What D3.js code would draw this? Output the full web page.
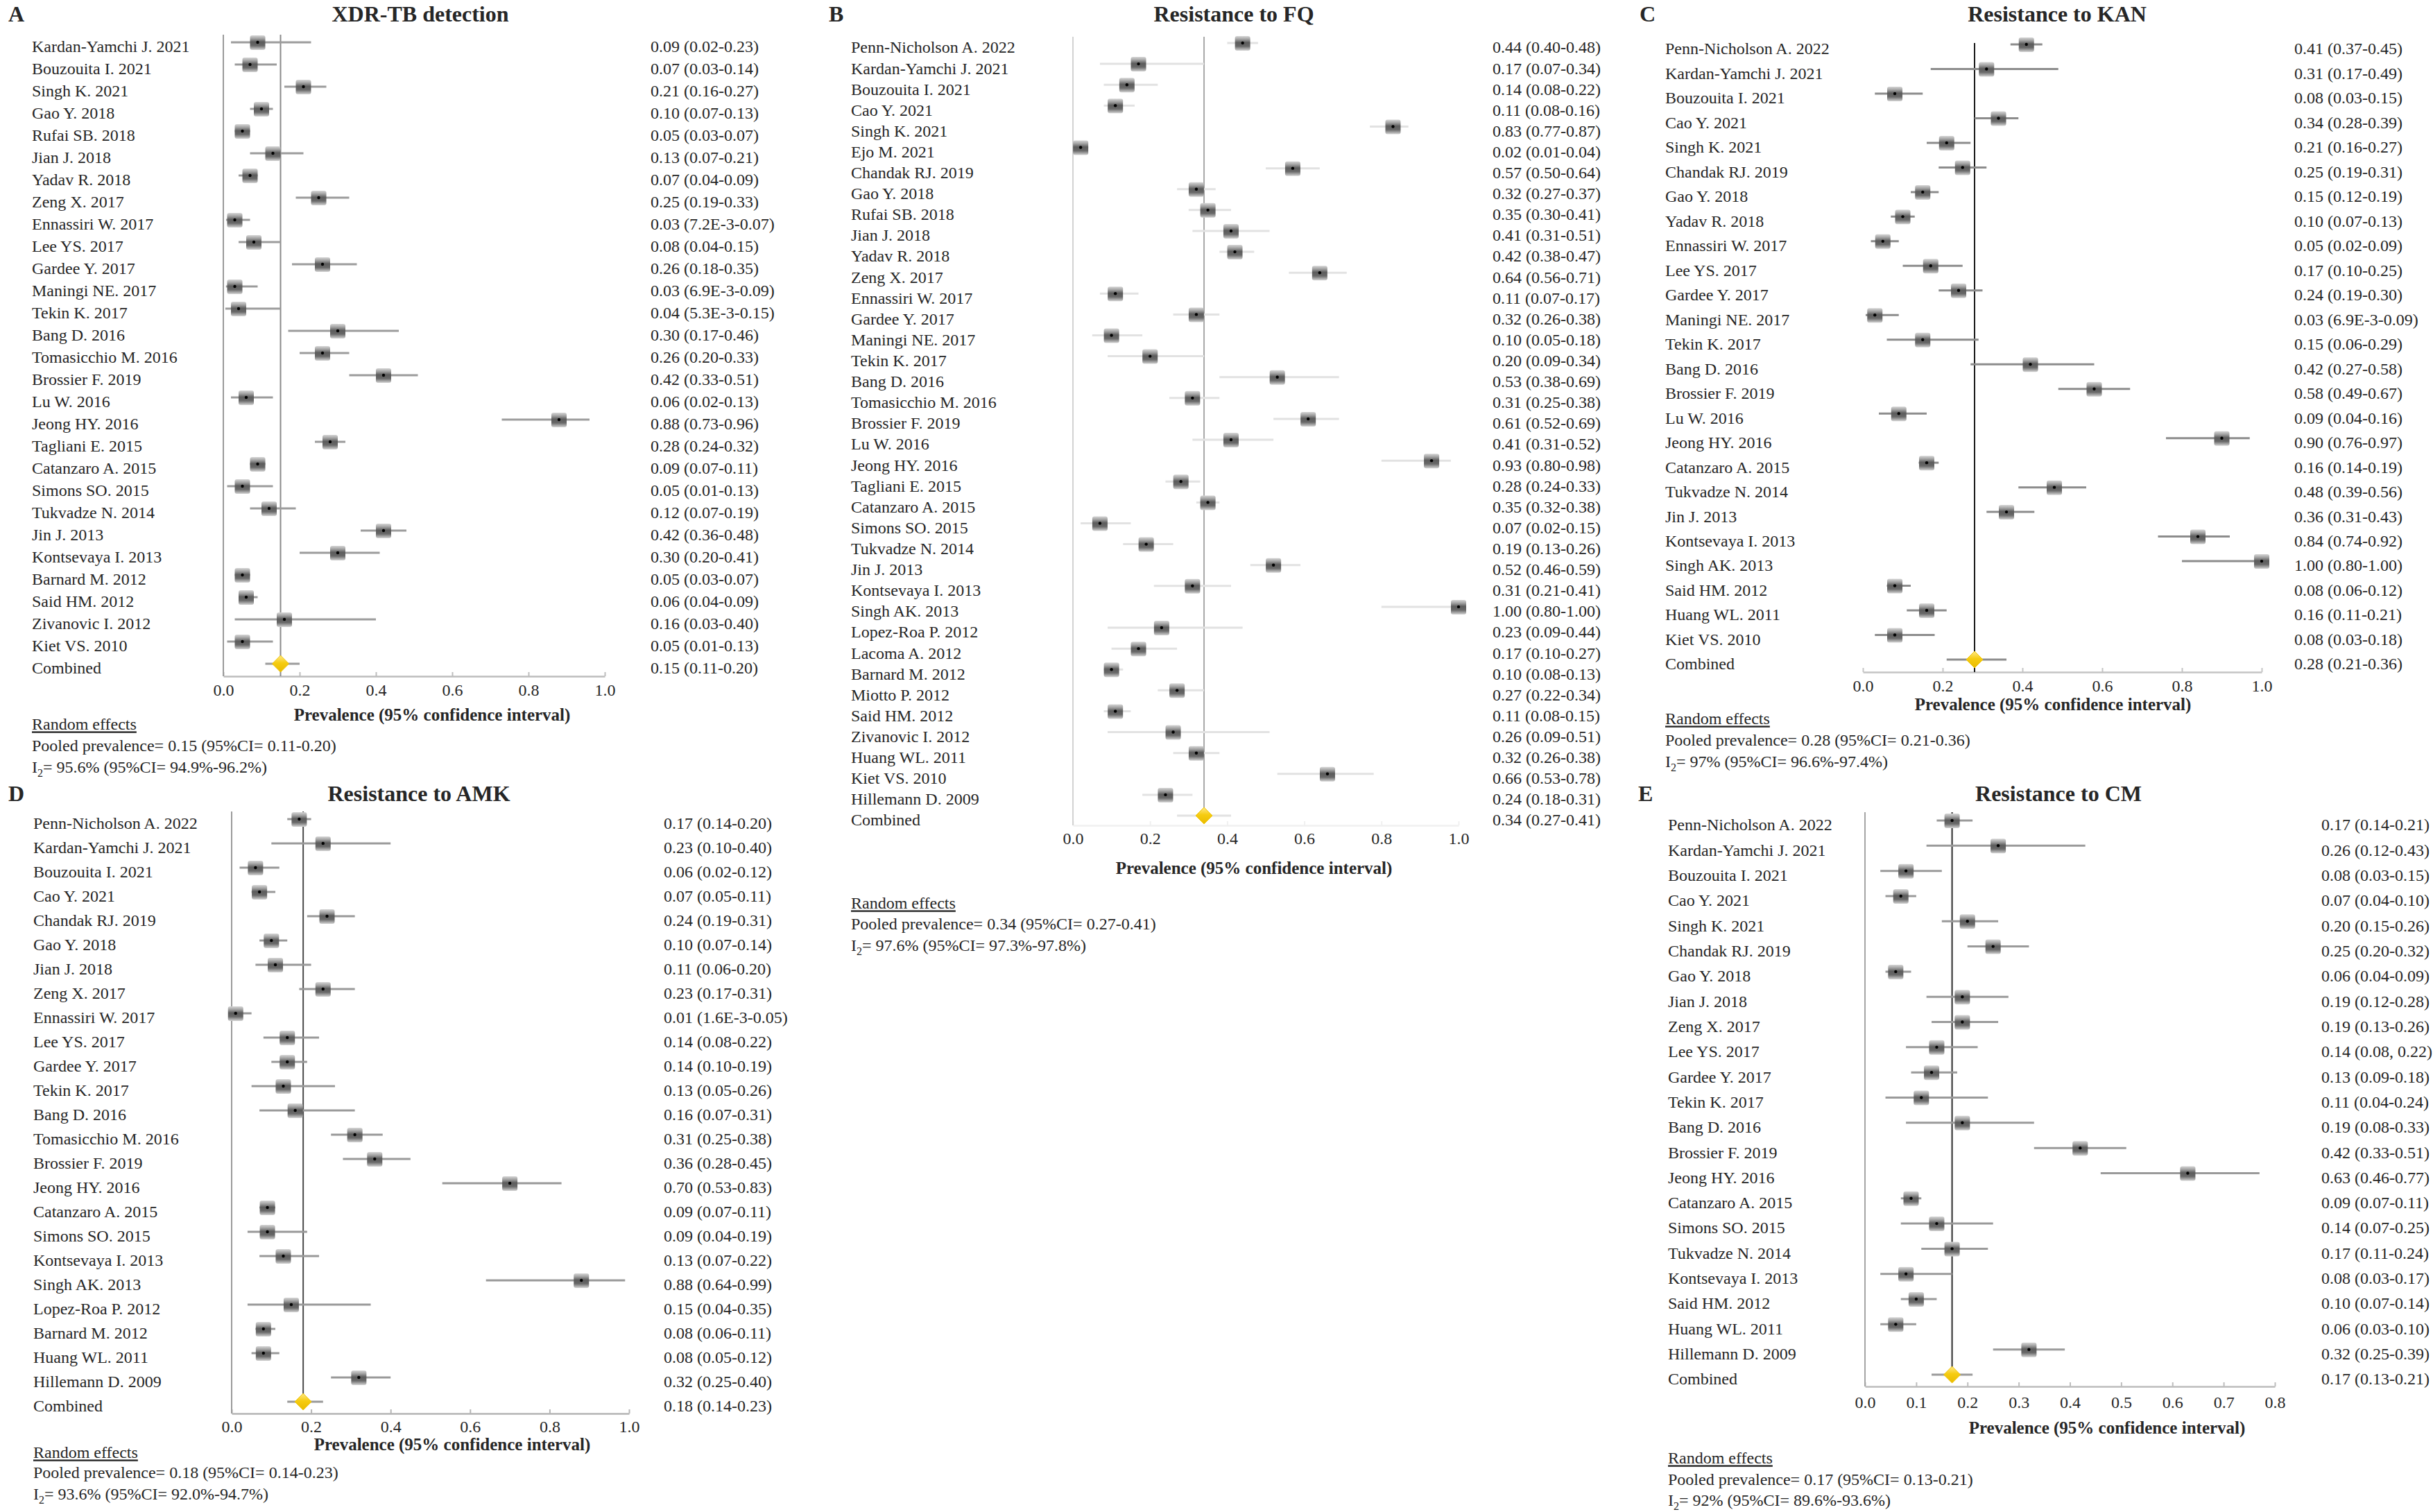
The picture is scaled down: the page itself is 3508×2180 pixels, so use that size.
<!DOCTYPE html>
<html><head><meta charset="utf-8">
<script src="https://cdn.jsdelivr.net/npm/d3@7"></script>
<style>
body{margin:0;background:#fff}
svg text{font-family:"Liberation Serif","Times New Roman",serif;fill:#262626}
</style>
</head><body>
<svg id="chart" width="3508" height="2180"></svg>
<script>
// ---------- DATA ----------
const aNames = ["Kardan-Yamchi J. 2021","Bouzouita I. 2021","Singh K. 2021","Gao Y. 2018","Rufai SB. 2018","Jian J. 2018","Yadav R. 2018","Zeng X. 2017","Ennassiri W. 2017","Lee YS. 2017","Gardee Y. 2017","Maningi NE. 2017","Tekin K. 2017","Bang D. 2016","Tomasicchio M. 2016","Brossier F. 2019","Lu W. 2016","Jeong HY. 2016","Tagliani E. 2015","Catanzaro A. 2015","Simons SO. 2015","Tukvadze N. 2014","Jin J. 2013","Kontsevaya I. 2013","Barnard M. 2012","Said HM. 2012","Zivanovic I. 2012","Kiet VS. 2010","Combined"];
const aEst = [0.09,0.07,0.21,0.10,0.05,0.13,0.07,0.25,0.03,0.08,0.26,0.03,0.04,0.30,0.26,0.42,0.06,0.88,0.28,0.09,0.05,0.12,0.42,0.30,0.05,0.06,0.16,0.05,0.15];
const aLo  = [0.02,0.03,0.16,0.07,0.03,0.07,0.04,0.19,0.0072,0.04,0.18,0.0069,0.0053,0.17,0.20,0.33,0.02,0.73,0.24,0.07,0.01,0.07,0.36,0.20,0.03,0.04,0.03,0.01,0.11];
const aHi  = [0.23,0.14,0.27,0.13,0.07,0.21,0.09,0.33,0.07,0.15,0.35,0.09,0.15,0.46,0.33,0.51,0.13,0.96,0.32,0.11,0.13,0.19,0.48,0.41,0.07,0.09,0.40,0.13,0.20];
const aText = ["0.09 (0.02-0.23)","0.07 (0.03-0.14)","0.21 (0.16-0.27)","0.10 (0.07-0.13)","0.05 (0.03-0.07)","0.13 (0.07-0.21)","0.07 (0.04-0.09)","0.25 (0.19-0.33)","0.03 (7.2E-3-0.07)","0.08 (0.04-0.15)","0.26 (0.18-0.35)","0.03 (6.9E-3-0.09)","0.04 (5.3E-3-0.15)","0.30 (0.17-0.46)","0.26 (0.20-0.33)","0.42 (0.33-0.51)","0.06 (0.02-0.13)","0.88 (0.73-0.96)","0.28 (0.24-0.32)","0.09 (0.07-0.11)","0.05 (0.01-0.13)","0.12 (0.07-0.19)","0.42 (0.36-0.48)","0.30 (0.20-0.41)","0.05 (0.03-0.07)","0.06 (0.04-0.09)","0.16 (0.03-0.40)","0.05 (0.01-0.13)","0.15 (0.11-0.20)"];

const bNames = ["Penn-Nicholson A. 2022","Kardan-Yamchi J. 2021","Bouzouita I. 2021","Cao Y. 2021","Singh K. 2021","Ejo M. 2021","Chandak RJ. 2019","Gao Y. 2018","Rufai SB. 2018","Jian J. 2018","Yadav R. 2018","Zeng X. 2017","Ennassiri W. 2017","Gardee Y. 2017","Maningi NE. 2017","Tekin K. 2017","Bang D. 2016","Tomasicchio M. 2016","Brossier F. 2019","Lu W. 2016","Jeong HY. 2016","Tagliani E. 2015","Catanzaro A. 2015","Simons SO. 2015","Tukvadze N. 2014","Jin J. 2013","Kontsevaya I. 2013","Singh AK. 2013","Lopez-Roa P. 2012","Lacoma A. 2012","Barnard M. 2012","Miotto P. 2012","Said HM. 2012","Zivanovic I. 2012","Huang WL. 2011","Kiet VS. 2010","Hillemann D. 2009","Combined"];
const bEst = [0.44,0.17,0.14,0.11,0.83,0.02,0.57,0.32,0.35,0.41,0.42,0.64,0.11,0.32,0.10,0.20,0.53,0.31,0.61,0.41,0.93,0.28,0.35,0.07,0.19,0.52,0.31,1.00,0.23,0.17,0.10,0.27,0.11,0.26,0.32,0.66,0.24,0.34];
const bLo  = [0.40,0.07,0.08,0.08,0.77,0.01,0.50,0.27,0.30,0.31,0.38,0.56,0.07,0.26,0.05,0.09,0.38,0.25,0.52,0.31,0.80,0.24,0.32,0.02,0.13,0.46,0.21,0.80,0.09,0.10,0.08,0.22,0.08,0.09,0.26,0.53,0.18,0.27];
const bHi  = [0.48,0.34,0.22,0.16,0.87,0.04,0.64,0.37,0.41,0.51,0.47,0.71,0.17,0.38,0.18,0.34,0.69,0.38,0.69,0.52,0.98,0.33,0.38,0.15,0.26,0.59,0.41,1.00,0.44,0.27,0.13,0.34,0.15,0.51,0.38,0.78,0.31,0.41];
const bText = ["0.44 (0.40-0.48)","0.17 (0.07-0.34)","0.14 (0.08-0.22)","0.11 (0.08-0.16)","0.83 (0.77-0.87)","0.02 (0.01-0.04)","0.57 (0.50-0.64)","0.32 (0.27-0.37)","0.35 (0.30-0.41)","0.41 (0.31-0.51)","0.42 (0.38-0.47)","0.64 (0.56-0.71)","0.11 (0.07-0.17)","0.32 (0.26-0.38)","0.10 (0.05-0.18)","0.20 (0.09-0.34)","0.53 (0.38-0.69)","0.31 (0.25-0.38)","0.61 (0.52-0.69)","0.41 (0.31-0.52)","0.93 (0.80-0.98)","0.28 (0.24-0.33)","0.35 (0.32-0.38)","0.07 (0.02-0.15)","0.19 (0.13-0.26)","0.52 (0.46-0.59)","0.31 (0.21-0.41)","1.00 (0.80-1.00)","0.23 (0.09-0.44)","0.17 (0.10-0.27)","0.10 (0.08-0.13)","0.27 (0.22-0.34)","0.11 (0.08-0.15)","0.26 (0.09-0.51)","0.32 (0.26-0.38)","0.66 (0.53-0.78)","0.24 (0.18-0.31)","0.34 (0.27-0.41)"];

const cNames = ["Penn-Nicholson A. 2022","Kardan-Yamchi J. 2021","Bouzouita I. 2021","Cao Y. 2021","Singh K. 2021","Chandak RJ. 2019","Gao Y. 2018","Yadav R. 2018","Ennassiri W. 2017","Lee YS. 2017","Gardee Y. 2017","Maningi NE. 2017","Tekin K. 2017","Bang D. 2016","Brossier F. 2019","Lu W. 2016","Jeong HY. 2016","Catanzaro A. 2015","Tukvadze N. 2014","Jin J. 2013","Kontsevaya I. 2013","Singh AK. 2013","Said HM. 2012","Huang WL. 2011","Kiet VS. 2010","Combined"];
const cEst = [0.41,0.31,0.08,0.34,0.21,0.25,0.15,0.10,0.05,0.17,0.24,0.03,0.15,0.42,0.58,0.09,0.90,0.16,0.48,0.36,0.84,1.00,0.08,0.16,0.08,0.28];
const cLo  = [0.37,0.17,0.03,0.28,0.16,0.19,0.12,0.07,0.02,0.10,0.19,0.0069,0.06,0.27,0.49,0.04,0.76,0.14,0.39,0.31,0.74,0.80,0.06,0.11,0.03,0.21];
const cHi  = [0.45,0.49,0.15,0.39,0.27,0.31,0.19,0.13,0.09,0.25,0.30,0.09,0.29,0.58,0.67,0.16,0.97,0.19,0.56,0.43,0.92,1.00,0.12,0.21,0.18,0.36];
const cText = ["0.41 (0.37-0.45)","0.31 (0.17-0.49)","0.08 (0.03-0.15)","0.34 (0.28-0.39)","0.21 (0.16-0.27)","0.25 (0.19-0.31)","0.15 (0.12-0.19)","0.10 (0.07-0.13)","0.05 (0.02-0.09)","0.17 (0.10-0.25)","0.24 (0.19-0.30)","0.03 (6.9E-3-0.09)","0.15 (0.06-0.29)","0.42 (0.27-0.58)","0.58 (0.49-0.67)","0.09 (0.04-0.16)","0.90 (0.76-0.97)","0.16 (0.14-0.19)","0.48 (0.39-0.56)","0.36 (0.31-0.43)","0.84 (0.74-0.92)","1.00 (0.80-1.00)","0.08 (0.06-0.12)","0.16 (0.11-0.21)","0.08 (0.03-0.18)","0.28 (0.21-0.36)"];

const dNames = ["Penn-Nicholson A. 2022","Kardan-Yamchi J. 2021","Bouzouita I. 2021","Cao Y. 2021","Chandak RJ. 2019","Gao Y. 2018","Jian J. 2018","Zeng X. 2017","Ennassiri W. 2017","Lee YS. 2017","Gardee Y. 2017","Tekin K. 2017","Bang D. 2016","Tomasicchio M. 2016","Brossier F. 2019","Jeong HY. 2016","Catanzaro A. 2015","Simons SO. 2015","Kontsevaya I. 2013","Singh AK. 2013","Lopez-Roa P. 2012","Barnard M. 2012","Huang WL. 2011","Hillemann D. 2009","Combined"];
const dEst = [0.17,0.23,0.06,0.07,0.24,0.10,0.11,0.23,0.01,0.14,0.14,0.13,0.16,0.31,0.36,0.70,0.09,0.09,0.13,0.88,0.15,0.08,0.08,0.32,0.18];
const dLo  = [0.14,0.10,0.02,0.05,0.19,0.07,0.06,0.17,0.0016,0.08,0.10,0.05,0.07,0.25,0.28,0.53,0.07,0.04,0.07,0.64,0.04,0.06,0.05,0.25,0.14];
const dHi  = [0.20,0.40,0.12,0.11,0.31,0.14,0.20,0.31,0.05,0.22,0.19,0.26,0.31,0.38,0.45,0.83,0.11,0.19,0.22,0.99,0.35,0.11,0.12,0.40,0.23];
const dText = ["0.17 (0.14-0.20)","0.23 (0.10-0.40)","0.06 (0.02-0.12)","0.07 (0.05-0.11)","0.24 (0.19-0.31)","0.10 (0.07-0.14)","0.11 (0.06-0.20)","0.23 (0.17-0.31)","0.01 (1.6E-3-0.05)","0.14 (0.08-0.22)","0.14 (0.10-0.19)","0.13 (0.05-0.26)","0.16 (0.07-0.31)","0.31 (0.25-0.38)","0.36 (0.28-0.45)","0.70 (0.53-0.83)","0.09 (0.07-0.11)","0.09 (0.04-0.19)","0.13 (0.07-0.22)","0.88 (0.64-0.99)","0.15 (0.04-0.35)","0.08 (0.06-0.11)","0.08 (0.05-0.12)","0.32 (0.25-0.40)","0.18 (0.14-0.23)"];

const eNames = ["Penn-Nicholson A. 2022","Kardan-Yamchi J. 2021","Bouzouita I. 2021","Cao Y. 2021","Singh K. 2021","Chandak RJ. 2019","Gao Y. 2018","Jian J. 2018","Zeng X. 2017","Lee YS. 2017","Gardee Y. 2017","Tekin K. 2017","Bang D. 2016","Brossier F. 2019","Jeong HY. 2016","Catanzaro A. 2015","Simons SO. 2015","Tukvadze N. 2014","Kontsevaya I. 2013","Said HM. 2012","Huang WL. 2011","Hillemann D. 2009","Combined"];
const eEst = [0.17,0.26,0.08,0.07,0.20,0.25,0.06,0.19,0.19,0.14,0.13,0.11,0.19,0.42,0.63,0.09,0.14,0.17,0.08,0.10,0.06,0.32,0.17];
const eLo  = [0.14,0.12,0.03,0.04,0.15,0.20,0.04,0.12,0.13,0.08,0.09,0.04,0.08,0.33,0.46,0.07,0.07,0.11,0.03,0.07,0.03,0.25,0.13];
const eHi  = [0.21,0.43,0.15,0.10,0.26,0.32,0.09,0.28,0.26,0.22,0.18,0.24,0.33,0.51,0.77,0.11,0.25,0.24,0.17,0.14,0.10,0.39,0.21];
const eText = ["0.17 (0.14-0.21)","0.26 (0.12-0.43)","0.08 (0.03-0.15)","0.07 (0.04-0.10)","0.20 (0.15-0.26)","0.25 (0.20-0.32)","0.06 (0.04-0.09)","0.19 (0.12-0.28)","0.19 (0.13-0.26)","0.14 (0.08, 0.22)","0.13 (0.09-0.18)","0.11 (0.04-0.24)","0.19 (0.08-0.33)","0.42 (0.33-0.51)","0.63 (0.46-0.77)","0.09 (0.07-0.11)","0.14 (0.07-0.25)","0.17 (0.11-0.24)","0.08 (0.03-0.17)","0.10 (0.07-0.14)","0.06 (0.03-0.10)","0.32 (0.25-0.39)","0.17 (0.13-0.21)"];

const panelLetters = ["A","B","C","D","E"];
const panelTitles = ["XDR-TB detection","Resistance to FQ","Resistance to KAN","Resistance to AMK","Resistance to CM"];
const pooledLines = ["Pooled prevalence= 0.15 (95%CI= 0.11-0.20)","Pooled prevalence= 0.34 (95%CI= 0.27-0.41)","Pooled prevalence= 0.28 (95%CI= 0.21-0.36)","Pooled prevalence= 0.18 (95%CI= 0.14-0.23)","Pooled prevalence= 0.17 (95%CI= 0.13-0.21)"];
const i2Lines = ["= 95.6% (95%CI= 94.9%-96.2%)","= 97.6% (95%CI= 97.3%-97.8%)","= 97% (95%CI= 96.6%-97.4%)","= 93.6% (95%CI= 92.0%-94.7%)","= 92% (95%CI= 89.6%-93.6%)"];
const ticksUnit = [0,0.2,0.4,0.6,0.8,1.0];
const ticksCM = [0,0.1,0.2,0.3,0.4,0.5,0.6,0.7,0.8];
const axisTitle = "Prevalence (95% confidence interval)";
const reTitle = "Random effects";

// ---------- LAYOUT (positions / styles) ----------
const layouts = [
  {letterX:12, titleX:606, titleY:31, labelX:46, x0:322, x1:872, xMax:1, ticks:ticksUnit, valX:938,
   rowTop:61, rowBot:957, plotTop:50, axisY:975, leftAxis:"#9a9a9a", axisCol:"#bdbdbd", pooledCol:"#8a8a8a", pooledBot:975, ciCol:"#9c9c9c",
   tickY:995, axTitleX:623, axTitleY:1030, reY:1044, poolY:1075, i2Y:1106},
  {letterX:1195, titleX:1779, titleY:31, labelX:1227, x0:1547, x1:2103, xMax:1, ticks:ticksUnit, valX:2152,
   rowTop:62, rowBot:1176, plotTop:53, axisY:1190, leftAxis:"#d2d2d2", axisCol:"#f0f0f0", pooledCol:"#a8a8a8", pooledBot:1178, ciCol:"#e2e2e2",
   tickY:1209, axTitleX:1808, axTitleY:1251, reY:1302, poolY:1332, i2Y:1363},
  {letterX:2364, titleX:2966, titleY:31, labelX:2401, x0:2686, x1:3261, xMax:1, ticks:ticksUnit, valX:3308,
   rowTop:64, rowBot:951, plotTop:62, axisY:969, leftAxis:null, axisCol:"#c4c4c4", pooledCol:"#1a1a1a", pooledBot:969, ciCol:"#8c8c8c",
   tickY:989, axTitleX:2960, axTitleY:1015, reY:1036, poolY:1067, i2Y:1098},
  {letterX:12, titleX:604, titleY:1155, labelX:48, x0:334, x1:907, xMax:1, ticks:ticksUnit, valX:957,
   rowTop:1181, rowBot:2021, plotTop:1170, axisY:2038, leftAxis:"#9a9a9a", axisCol:"#b5b5b5", pooledCol:"#4a4a4a", pooledBot:2021, ciCol:"#999999",
   tickY:2057, axTitleX:652, axTitleY:2082, reY:2094, poolY:2123, i2Y:2154},
  {letterX:2362, titleX:2968, titleY:1155, labelX:2405, x0:2689, x1:3280, xMax:0.8, ticks:ticksCM, valX:3347,
   rowTop:1183, rowBot:1982, plotTop:1171, axisY:1999, leftAxis:"#a5a5a5", axisCol:"#bdbdbd", pooledCol:"#2a2a2a", pooledBot:1982, ciCol:"#9a9a9a",
   tickY:2022, axTitleX:3038, axTitleY:2058, reY:2102, poolY:2133, i2Y:2163}
];

const datasets = [
  {names:aNames, est:aEst, lo:aLo, hi:aHi, text:aText},
  {names:bNames, est:bEst, lo:bLo, hi:bHi, text:bText},
  {names:cNames, est:cEst, lo:cLo, hi:cHi, text:cText},
  {names:dNames, est:dEst, lo:dLo, hi:dHi, text:dText},
  {names:eNames, est:eEst, lo:eLo, hi:eHi, text:eText}
];

// ---------- DRAW ----------
const svg = d3.select("#chart");
const defs = svg.append("defs");
const sq = defs.append("linearGradient").attr("id","sqGrad").attr("x1",0).attr("y1",0).attr("x2",0).attr("y2",1);
[[0,"#d6d6d6"],[0.22,"#a2a2a2"],[0.45,"#5c5c5c"],[0.7,"#686868"],[1,"#d4d4d4"]].forEach(s=>sq.append("stop").attr("offset",s[0]).attr("stop-color",s[1]));
const dg = defs.append("linearGradient").attr("id","dmGrad").attr("x1",0).attr("y1",0).attr("x2",0).attr("y2",1);
[[0,"#ffe98a"],[0.45,"#f6cc10"],[1,"#e9bb00"]].forEach(s=>dg.append("stop").attr("offset",s[0]).attr("stop-color",s[1]));

const FS = 24;

datasets.forEach((ds, p) => {
  const L = layouts[p];
  const g = svg.append("g");
  const n = ds.names.length;
  const x = d3.scaleLinear().domain([0, L.xMax]).range([L.x0, L.x1]);
  const y = d3.scaleLinear().domain([0, n-1]).range([L.rowTop, L.rowBot]);
  const rows = d3.range(n);
  const last = n-1;

  g.append("text").attr("x",L.letterX).attr("y",L.titleY).attr("font-size",32).attr("font-weight","bold").text(panelLetters[p]);
  g.append("text").attr("x",L.titleX).attr("y",L.titleY).attr("font-size",32).attr("font-weight","bold").attr("text-anchor","middle").text(panelTitles[p]);

  // axis
  const axis = d3.axisBottom(x).tickValues(L.ticks).tickFormat(d3.format(".1f")).tickSizeInner(-6).tickSizeOuter(0);
  const ag = g.append("g").attr("transform",`translate(0,${L.axisY})`).call(axis);
  ag.attr("font-family",null).attr("font-size",null);
  ag.select(".domain").attr("stroke",L.axisCol).attr("stroke-width",2.5);
  ag.selectAll(".tick line").attr("stroke",L.axisCol).attr("stroke-width",2);
  ag.selectAll(".tick text").attr("y",L.tickY-L.axisY).attr("dy","0.35em").attr("font-size",FS).attr("fill","#333");

  if (L.leftAxis) {
    g.append("line").attr("x1",x(0)).attr("x2",x(0)).attr("y1",L.plotTop).attr("y2",L.axisY)
      .attr("stroke",L.leftAxis).attr("stroke-width",2);
  }
  // pooled estimate line
  g.append("line").attr("x1",x(ds.est[last])).attr("x2",x(ds.est[last])).attr("y1",L.plotTop).attr("y2",L.pooledBot)
    .attr("stroke",L.pooledCol).attr("stroke-width",2);

  // CI lines
  g.selectAll(".ci").data(rows).join("line")
    .attr("x1",i=>x(ds.lo[i])).attr("x2",i=>x(ds.hi[i]))
    .attr("y1",i=>y(i)).attr("y2",i=>y(i))
    .attr("stroke",L.ciCol).attr("stroke-width",3);

  // study squares
  const studies = rows.slice(0,last);
  g.selectAll(".sq").data(studies).join("rect")
    .attr("x",i=>x(ds.est[i])-11).attr("y",i=>y(i)-10).attr("width",22).attr("height",21).attr("rx",3)
    .attr("fill","url(#sqGrad)");
  g.selectAll(".dot").data(studies).join("circle")
    .attr("cx",i=>x(ds.est[i])).attr("cy",i=>y(i)).attr("r",2.2).attr("fill","#000");

  // combined diamond
  const cx = x(ds.est[last]), cy = y(last);
  g.append("path").attr("d",`M${cx},${cy-12} L${cx+12},${cy} L${cx},${cy+12} L${cx-12},${cy} Z`)
    .attr("fill","url(#dmGrad)").attr("stroke","#f0c400").attr("stroke-width",1);

  // labels
  g.selectAll(".nm").data(rows).join("text")
    .attr("x",L.labelX).attr("y",i=>y(i)+6).attr("dy","0.35em").attr("font-size",FS).text(i=>ds.names[i]);
  g.selectAll(".vl").data(rows).join("text")
    .attr("x",L.valX).attr("y",i=>y(i)+6).attr("dy","0.35em").attr("font-size",FS).text(i=>ds.text[i]);

  // axis title
  g.append("text").attr("x",L.axTitleX).attr("y",L.axTitleY).attr("dy","0.35em").attr("text-anchor","middle")
    .attr("font-size",25).attr("font-weight","bold").text(axisTitle);

  // footnotes
  g.append("text").attr("x",L.labelX).attr("y",L.reY).attr("dy","0.35em").attr("font-size",FS)
    .attr("text-decoration","underline").text(reTitle);
  g.append("text").attr("x",L.labelX).attr("y",L.poolY).attr("dy","0.35em").attr("font-size",FS).text(pooledLines[p]);
  const t = g.append("text").attr("x",L.labelX).attr("y",L.i2Y).attr("dy","0.35em").attr("font-size",FS);
  t.append("tspan").text("I");
  t.append("tspan").attr("font-size",16).attr("dy",6).text("2");
  t.append("tspan").attr("dy",-6).text(i2Lines[p]);
});
</script>
</body></html>
